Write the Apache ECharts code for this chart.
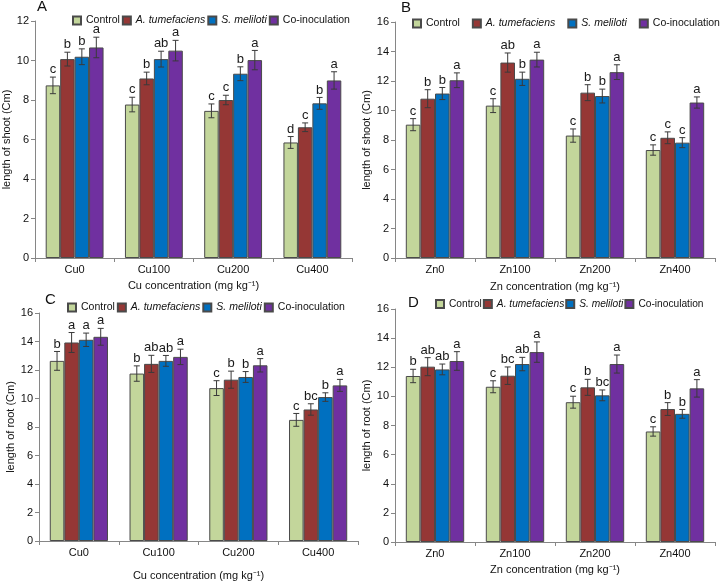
<!DOCTYPE html>
<html>
<head>
<meta charset="utf-8">
<script src="https://cdn.jsdelivr.net/npm/echarts@6/dist/echarts.min.js"></script>
<style>
  html, body { margin: 0; padding: 0; background: #fff; }
  #chart { width: 725px; height: 582px; }
</style>
</head>
<body>
<div id="chart"></div>
<script>
const cuCats = ['Cu0', 'Cu100', 'Cu200', 'Cu400'];
const znCats = ['Zn0', 'Zn100', 'Zn200', 'Zn400'];
const groupNames = ['Control', 'A. tumefaciens', 'S. meliloti', 'Co-inoculation'];
const groupColors = ['#c3d69b', '#953735', '#0070c0', '#7030a0'];

// A: shoot length, Cu (one row per group)
const shootCu = [[8.74, 7.77, 7.45, 5.85], [10.07, 9.09, 8.0, 6.62], [10.19, 10.07, 9.33, 7.83], [10.66, 10.5, 10.02, 8.99]];
const shootCuErr = [[0.42, 0.37, 0.35, 0.3], [0.35, 0.32, 0.24, 0.22], [0.4, 0.4, 0.35, 0.3], [0.52, 0.52, 0.49, 0.44]];
const shootCuSig = [['c', 'c', 'c', 'd'], ['b', 'b', 'c', 'c'], ['b', 'ab', 'b', 'b'], ['a', 'a', 'a', 'a']];

// B: shoot length, Zn
const shootZn = [[9.04, 10.33, 8.3, 7.32], [10.8, 13.25, 11.21, 8.15], [11.15, 12.15, 10.98, 7.82], [12.05, 13.45, 12.6, 10.54]];
const shootZnErr = [[0.41, 0.47, 0.45, 0.35], [0.61, 0.65, 0.54, 0.4], [0.41, 0.45, 0.47, 0.34], [0.5, 0.5, 0.5, 0.38]];
const shootZnSig = [['c', 'c', 'c', 'c'], ['b', 'ab', 'b', 'c'], ['b', 'b', 'b', 'c'], ['a', 'a', 'a', 'a']];

// C: root length, Cu
const rootCu = [[12.64, 11.75, 10.73, 8.5], [13.93, 12.43, 11.32, 9.23], [14.12, 12.64, 11.51, 10.1], [14.33, 12.92, 12.33, 10.92]];
const rootCuErr = [[0.66, 0.54, 0.52, 0.45], [0.7, 0.6, 0.6, 0.4], [0.47, 0.38, 0.38, 0.3], [0.59, 0.54, 0.47, 0.42]];
const rootCuSig = [['b', 'b', 'c', 'c'], ['a', 'ab', 'b', 'bc'], ['a', 'ab', 'b', 'b'], ['a', 'a', 'a', 'a']];

// D: root length, Zn
const rootZn = [[11.4, 10.66, 9.6, 7.59], [12.04, 11.42, 10.62, 9.13], [11.85, 12.22, 10.07, 8.8], [12.43, 13.04, 12.22, 10.55]];
const rootZnErr = [[0.46, 0.41, 0.41, 0.32], [0.62, 0.6, 0.55, 0.44], [0.37, 0.46, 0.37, 0.3], [0.64, 0.7, 0.62, 0.6]];
const rootZnSig = [['b', 'c', 'c', 'c'], ['ab', 'bc', 'b', 'b'], ['ab', 'ab', 'bc', 'b'], ['a', 'a', 'a', 'a']];

const FONT = 'Liberation Sans, Arial, sans-serif';
const GAP = 0.27;
const axisColor = '#868686';

const panels = [
  { letter: 'A', cats: cuCats, vals: shootCu, err: shootCuErr, sig: shootCuSig, max: 12,
    grid: { left: 35, top: 21, width: 317, height: 237 }, yName: 'length of shoot (Cm)', xName: 'Cu concentration (mg kg⁻¹)',
    yGap: 21, xGap: 22, title: [37, -1], legend: { left: 72, top: 15, gap: 2, size: 10.5 } },
  { letter: 'B', cats: znCats, vals: shootZn, err: shootZnErr, sig: shootZnSig, max: 16,
    grid: { left: 395, top: 22, width: 320, height: 236 }, yName: 'length of shoot (Cm)', xName: 'Zn concentration (mg kg⁻¹)',
    yGap: 19, xGap: 23, title: [401, 0], legend: { left: 412, top: 18, gap: 12, size: 10.5 } },
  { letter: 'C', cats: cuCats, vals: rootCu, err: rootCuErr, sig: rootCuSig, max: 16,
    grid: { left: 39, top: 313, width: 319, height: 228 }, yName: 'length of root (Cm)', xName: 'Cu concentration (mg kg⁻¹)',
    yGap: 21, xGap: 29, title: [45, 292], legend: { left: 67, top: 302, gap: 2, size: 10.5 } },
  { letter: 'D', cats: znCats, vals: rootZn, err: rootZnErr, sig: rootZnSig, max: 16,
    grid: { left: 395, top: 309, width: 320, height: 233 }, yName: 'length of root (Cm)', xName: 'Zn concentration (mg kg⁻¹)',
    yGap: 19, xGap: 22, title: [408, 295], legend: { left: 435, top: 299, gap: 1, size: 10.2 } },
];

function errRender(sig, s) {
  return function (params, api) {
    const ci = api.value(0);
    const v = api.value(1);
    const e = api.value(2);
    const cw = api.size([1, 0])[0];
    const bw = cw * (1 - GAP) / 4;
    const off = (s - 1.5) * bw;
    const top = api.coord([ci, v + e]);
    const bot = api.coord([ci, v - e]);
    const x = top[0] + off;
    const cap = 3;
    const st = { stroke: '#3a3a3a', lineWidth: 1 };
    return {
      type: 'group',
      children: [
        { type: 'line', shape: { x1: x, y1: top[1], x2: x, y2: bot[1] }, style: st },
        { type: 'line', shape: { x1: x - cap, y1: top[1], x2: x + cap, y2: top[1] }, style: st },
        { type: 'line', shape: { x1: x - cap, y1: bot[1], x2: x + cap, y2: bot[1] }, style: st },
        { type: 'text', style: { text: sig[s][params.dataIndex], x: x, y: top[1] - 1,
            textAlign: 'center', textVerticalAlign: 'bottom', fill: '#1a1a1a', font: '13px ' + FONT } },
      ],
    };
  };
}

const option = {
  animation: false,
  backgroundColor: '#fff',
  textStyle: { fontFamily: FONT },
  title: [], legend: [], grid: [], xAxis: [], yAxis: [], series: [],
};

panels.forEach((p, k) => {
  option.title.push({ text: p.letter, left: p.title[0], top: p.title[1], padding: 0,
    textStyle: { fontSize: 15, fontWeight: 'normal', color: '#111', fontFamily: FONT } });
  option.grid.push(p.grid);
  option.legend.push({
    left: p.legend.left, top: p.legend.top, itemGap: p.legend.gap, padding: 0, width: 400,
    itemWidth: 8, itemHeight: 8, icon: 'rect',
    data: groupNames,
    formatter: n => n.includes('.') ? '{i|' + n + '}' : n,
    textStyle: { fontSize: p.legend.size, color: '#111',
      rich: { i: { fontStyle: 'italic', fontSize: p.legend.size, color: '#111' } } },
  });
  option.xAxis.push({
    type: 'category', gridIndex: k, data: p.cats,
    name: p.xName, nameLocation: 'middle', nameGap: p.xGap,
    nameTextStyle: { fontSize: 11, color: '#111' },
    axisLine: { lineStyle: { color: axisColor } },
    axisTick: { show: true, length: 4, lineStyle: { color: axisColor } },
    axisLabel: { fontSize: 11, color: '#111', margin: 6 },
  });
  option.yAxis.push({
    type: 'value', gridIndex: k, min: 0, max: p.max, interval: 2,
    name: p.yName, nameLocation: 'middle', nameGap: p.yGap,
    nameTextStyle: { fontSize: 11, color: '#111' },
    axisLine: { show: true, lineStyle: { color: axisColor } },
    axisTick: { show: true, length: 4, lineStyle: { color: axisColor } },
    axisLabel: { fontSize: 11, color: '#111', margin: 6 },
    splitLine: { show: false },
  });
  groupNames.forEach((g, s) => {
    option.series.push({
      type: 'bar', name: g, xAxisIndex: k, yAxisIndex: k,
      data: p.vals[s],
      barGap: '0%', barCategoryGap: (GAP * 100) + '%',
      itemStyle: { color: groupColors[s], borderColor: '#4a4a4a', borderWidth: 1 },
    });
  });
  groupNames.forEach((g, s) => {
    option.series.push({
      type: 'custom', xAxisIndex: k, yAxisIndex: k, z: 5,
      renderItem: errRender(p.sig, s),
      data: p.vals[s].map((v, i) => [i, v, p.err[s][i]]),
    });
  });
});

const chart = echarts.init(document.getElementById('chart'), null, { renderer: 'canvas' });
chart.setOption(option);
</script>
</body>
</html>
